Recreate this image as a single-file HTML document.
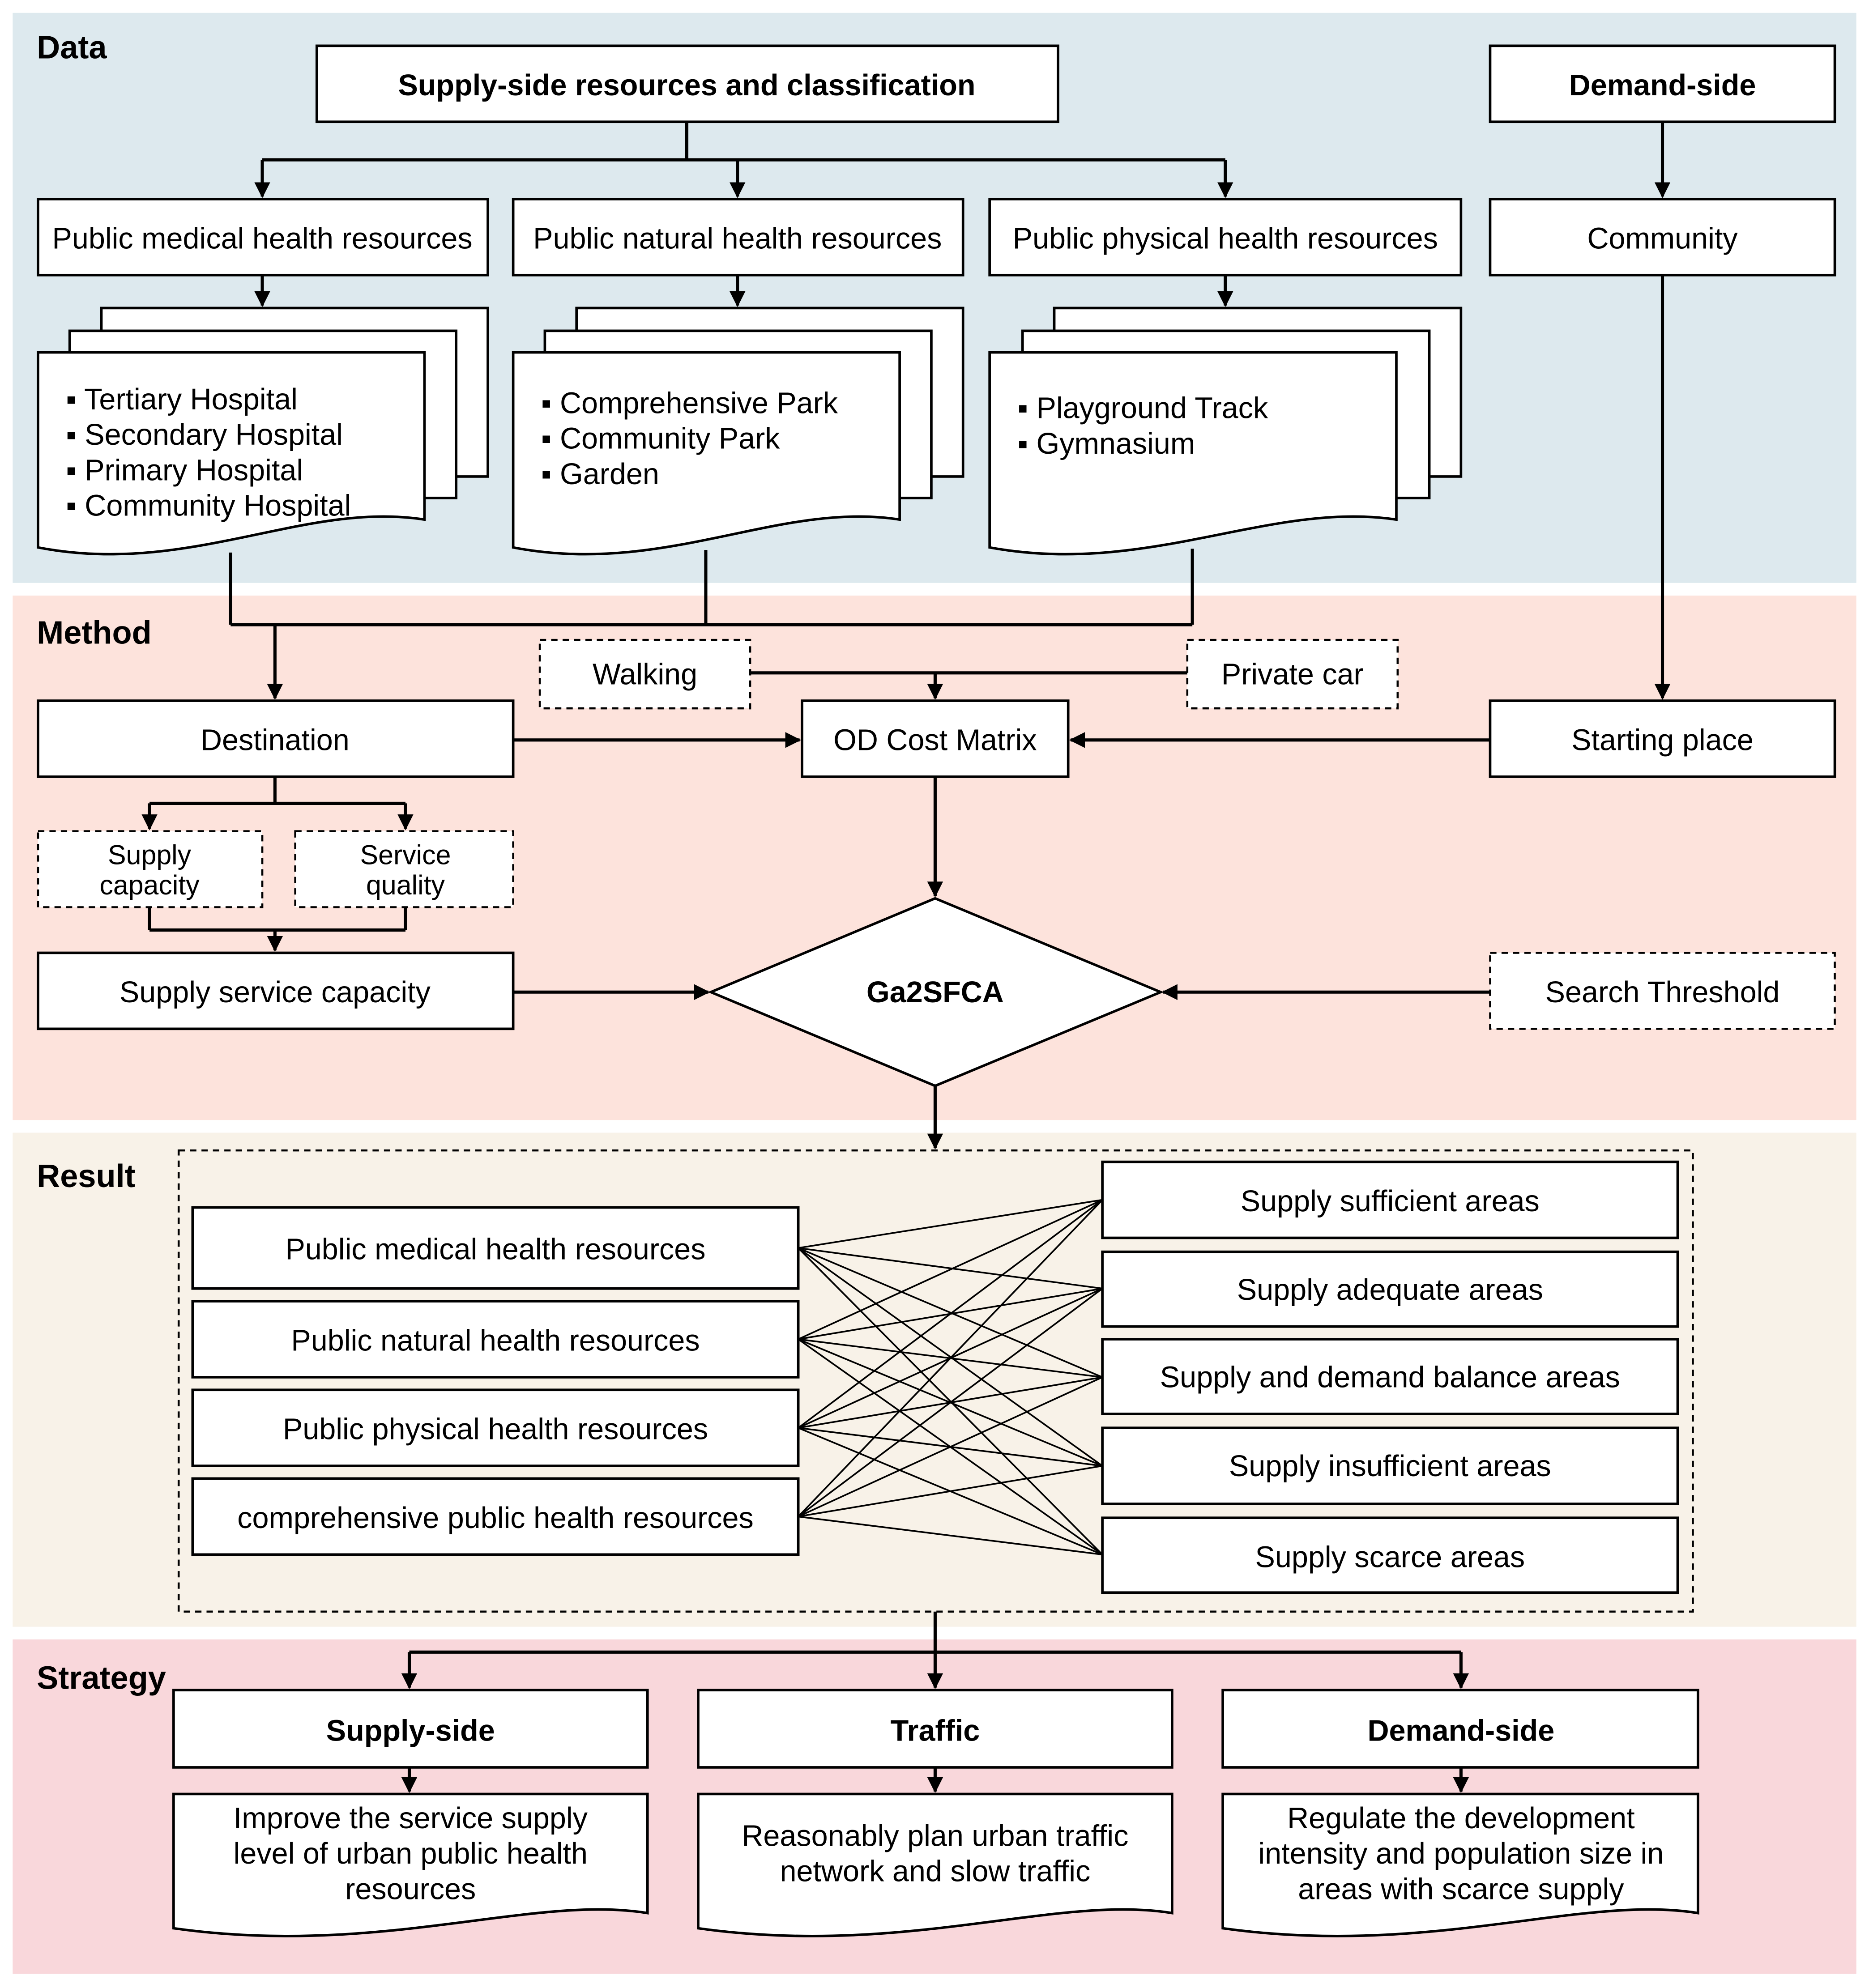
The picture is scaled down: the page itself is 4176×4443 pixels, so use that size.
<!DOCTYPE html>
<html><head><meta charset="utf-8"><style>
html,body{margin:0;padding:0;background:#fff;}
svg{display:block;}
text{font-family:"Liberation Sans",Arial,sans-serif;fill:#000;}
</style></head><body>
<svg width="4176" height="4443" viewBox="0 0 1475 1569" xmlns="http://www.w3.org/2000/svg">
<defs>
<marker id="a" viewBox="0 0 10 10" refX="9" refY="5" markerWidth="5" markerHeight="5" orient="auto-start-reverse"><path d="M0,0 L10,5 L0,10 z" fill="#000"/></marker>
</defs>
<rect x="10" y="10" width="1455" height="450" fill="#dde9ee"/>
<rect x="10" y="470" width="1455" height="414" fill="#fde3dc"/>
<rect x="10" y="894" width="1455" height="390" fill="#f8f2e8"/>
<rect x="10" y="1294" width="1455" height="264" fill="#f9d7db"/>
<g font-size="25.5" font-weight="bold">
<text x="29" y="46">Data</text><text x="29" y="508">Method</text><text x="29" y="937">Result</text><text x="29" y="1333">Strategy</text>
</g>
<g fill="#fff" stroke="#000" stroke-width="2">
<rect x="250" y="36" width="585" height="60"/><rect x="1176" y="36" width="272" height="60"/>
<rect x="30" y="157" width="355" height="60"/><rect x="405" y="157" width="355" height="60"/><rect x="781" y="157" width="372" height="60"/><rect x="1176" y="157" width="272" height="60"/>
<rect x="80" y="243" width="305" height="133"/><rect x="55" y="261" width="305" height="132"/>
<path d="M30,278 H335 V410 C240,395 150,455 30,432 Z"/>
<rect x="455" y="243" width="305" height="133"/><rect x="430" y="261" width="305" height="132"/>
<path d="M405,278 H710 V410 C615,395 525,455 405,432 Z"/>
<rect x="832" y="243" width="321" height="133"/><rect x="807" y="261" width="321" height="132"/>
<path d="M781,278 H1102 V410 C1002,395 907,455 781,432 Z"/>
<rect x="30" y="553" width="375" height="60"/><rect x="633" y="553" width="210" height="60"/><rect x="1176" y="553" width="272" height="60"/>
<rect x="30" y="752" width="375" height="60"/>
<path d="M738,709 L916,783 L738,857 L561,783 Z"/>
<rect x="152" y="953" width="478" height="64"/><rect x="152" y="1027" width="478" height="60"/><rect x="152" y="1097" width="478" height="60"/><rect x="152" y="1167" width="478" height="60"/>
<rect x="870" y="917" width="454" height="60"/><rect x="870" y="988" width="454" height="59"/><rect x="870" y="1057" width="454" height="59"/><rect x="870" y="1127" width="454" height="60"/><rect x="870" y="1198" width="454" height="59"/>
<rect x="137" y="1334" width="374" height="61"/><rect x="551" y="1334" width="374" height="61"/><rect x="965" y="1334" width="375" height="61"/>
<path d="M137,1416 H511 V1510 C420,1495 300,1545 137,1522 Z"/>
<path d="M551,1416 H925 V1510 C834,1495 714,1545 551,1522 Z"/>
<path d="M965,1416 H1340 V1510 C1249,1495 1129,1545 965,1522 Z"/>
</g>
<g fill="#fff" stroke="#000" stroke-width="1.6" stroke-dasharray="5,4">
<rect x="426" y="505" width="166" height="54"/><rect x="937" y="505" width="166" height="54"/>
<rect x="30" y="656" width="177" height="60"/><rect x="233" y="656" width="172" height="60"/>
<rect x="1176" y="752" width="272" height="60"/>
<rect x="141" y="908" width="1195" height="364" fill="none"/>
</g>
<g stroke="#000" stroke-width="2.5" fill="none">
<path d="M542,96 V126 M207,126 H967"/>
<path d="M207,126 V155" marker-end="url(#a)"/><path d="M582,126 V155" marker-end="url(#a)"/><path d="M967,126 V155" marker-end="url(#a)"/>
<path d="M1312,96 V155" marker-end="url(#a)"/>
<path d="M207,217 V241" marker-end="url(#a)"/><path d="M582,217 V241" marker-end="url(#a)"/><path d="M967,217 V241" marker-end="url(#a)"/>
<path d="M182,436 V493 M557,434 V493 M941,433 V493 M182,493 H941"/>
<path d="M217,493 V551" marker-end="url(#a)"/>
<path d="M1312,217 V551" marker-end="url(#a)"/>
<path d="M592,531 H937"/><path d="M738,531 V551" marker-end="url(#a)"/>
<path d="M405,584 H631" marker-end="url(#a)"/><path d="M1176,584 H845" marker-end="url(#a)"/>
<path d="M217,613 V634 M118,634 H320"/><path d="M118,634 V654" marker-end="url(#a)"/><path d="M320,634 V654" marker-end="url(#a)"/>
<path d="M118,716 V734 M320,716 V734 M118,734 H320"/><path d="M217,734 V750" marker-end="url(#a)"/>
<path d="M738,613 V707" marker-end="url(#a)"/>
<path d="M405,783 H559" marker-end="url(#a)"/><path d="M1176,783 H918" marker-end="url(#a)"/>
<path d="M738,857 V906" marker-end="url(#a)"/>
<path d="M738,1272 V1332" marker-end="url(#a)"/><path d="M323,1304 H1153"/>
<path d="M323,1304 V1332" marker-end="url(#a)"/><path d="M1153,1304 V1332" marker-end="url(#a)"/>
<path d="M323,1395 V1414" marker-end="url(#a)"/><path d="M738,1395 V1414" marker-end="url(#a)"/><path d="M1153,1395 V1414" marker-end="url(#a)"/>
</g>
<g stroke="#000" stroke-width="1.3">
<path d="M630,985 L870,947 M630,985 L870,1017 M630,985 L870,1087 M630,985 L870,1157 M630,985 L870,1227
M630,1057 L870,947 M630,1057 L870,1017 M630,1057 L870,1087 M630,1057 L870,1157 M630,1057 L870,1227
M630,1127 L870,947 M630,1127 L870,1017 M630,1127 L870,1087 M630,1127 L870,1157 M630,1127 L870,1227
M630,1197 L870,947 M630,1197 L870,1017 M630,1197 L870,1087 M630,1197 L870,1157 M630,1197 L870,1227"/>
</g>
<g font-size="23.5" text-anchor="middle">
<text x="542" y="75" font-weight="bold">Supply-side resources and classification</text>
<text x="1312" y="75" font-weight="bold">Demand-side</text>
<text x="207" y="196">Public medical health resources</text>
<text x="582" y="196">Public natural health resources</text>
<text x="967" y="196">Public physical  health resources</text>
<text x="1312" y="196">Community</text>
<text x="217" y="592">Destination</text>
<text x="738" y="592">OD Cost Matrix</text>
<text x="1312" y="592">Starting place</text>
<text x="509" y="540">Walking</text>
<text x="1020" y="540">Private car</text>
<text x="118" y="682" font-size="21.5">Supply</text><text x="118" y="706" font-size="21.5">capacity</text>
<text x="320" y="682" font-size="21.5">Service</text><text x="320" y="706" font-size="21.5">quality</text>
<text x="217" y="791">Supply service capacity</text>
<text x="738" y="791" font-weight="bold">Ga2SFCA</text>
<text x="1312" y="791">Search Threshold</text>
<text x="391" y="994">Public medical health resources</text>
<text x="391" y="1066">Public natural health resources</text>
<text x="391" y="1136">Public physical health resources</text>
<text x="391" y="1206">comprehensive public health resources</text>
<text x="1097" y="956">Supply sufficient areas</text>
<text x="1097" y="1026">Supply adequate areas</text>
<text x="1097" y="1095">Supply and demand balance areas</text>
<text x="1097" y="1165">Supply insufficient areas</text>
<text x="1097" y="1237">Supply scarce areas</text>
<text x="324" y="1374" font-weight="bold">Supply-side</text>
<text x="738" y="1374" font-weight="bold">Traffic</text>
<text x="1153" y="1374" font-weight="bold">Demand-side</text>
<text x="324" y="1443">Improve the service supply</text><text x="324" y="1471">level of urban public health</text><text x="324" y="1499">resources</text>
<text x="738" y="1457">Reasonably plan urban traffic</text><text x="738" y="1485">network and slow traffic</text>
<text x="1153" y="1443">Regulate the development</text><text x="1153" y="1471">intensity and population size in</text><text x="1153" y="1499">areas with scarce supply</text>
</g>
<g font-size="23.5">
<text x="52" y="323">▪ Tertiary Hospital</text><text x="52" y="351">▪ Secondary Hospital</text><text x="52" y="379">▪ Primary Hospital</text><text x="52" y="407">▪ Community Hospital</text>
<text x="427" y="326">▪ Comprehensive Park</text><text x="427" y="354">▪ Community Park</text><text x="427" y="382">▪ Garden</text>
<text x="803" y="330">▪ Playground Track</text><text x="803" y="358">▪ Gymnasium</text>
</g>
</svg>
</body></html>
